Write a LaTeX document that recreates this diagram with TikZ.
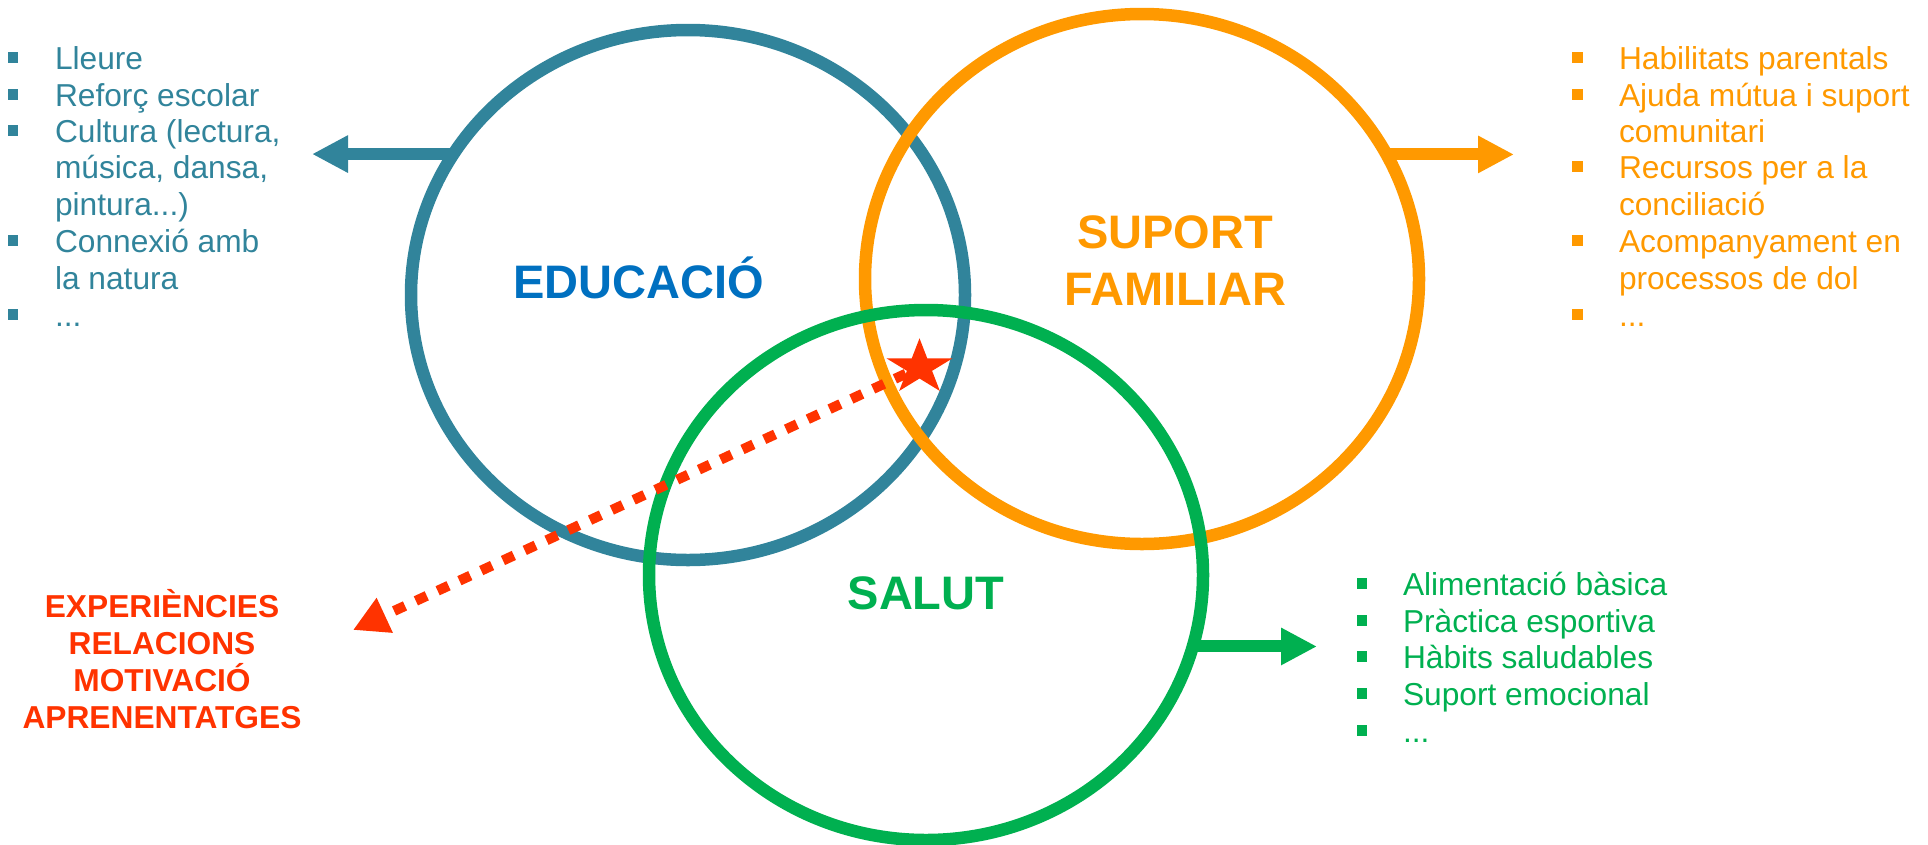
\documentclass[tikz,border=0pt]{standalone}
\usepackage{fontspec}
\setmainfont{Liberation Sans}
\usetikzlibrary{shapes.geometric,arrows.meta}
\definecolor{cteal}{RGB}{49,132,155}
\definecolor{cblue}{RGB}{0,112,192}
\definecolor{corange}{RGB}{255,153,0}
\definecolor{cgreen}{RGB}{0,176,80}
\definecolor{cred}{RGB}{255,51,0}
\begin{document}
\begin{tikzpicture}[x=1pt,y=-1pt,
  ring/.style={ellipse, draw, line width=12.5pt, minimum width=554pt, minimum height=530pt, inner sep=0pt, outer sep=0pt},
  thickarrow/.style={line width=12pt, -{Triangle[length=36pt,width=35pt]}},
  item/.style={anchor=base west, inner sep=0pt, outer sep=0pt, font=\fontsize{31.7}{36.7}\selectfont},
  bsq/.style={rectangle, minimum size=10.5pt, inner sep=0pt, outer sep=0pt},
  title/.style={anchor=base, inner sep=0pt, font=\fontsize{47}{56.6}\selectfont\bfseries},
  outcome/.style={anchor=base, inner sep=0pt, text=cred, font=\fontsize{31.7}{37}\selectfont\bfseries}]

\useasboundingbox (0,0) rectangle (1928,844);

% circles
\node[ring, draw=cteal] (edu) at (688,295) {};
\node[ring, draw=corange] (fam) at (1142,279) {};
\node[ring, draw=cgreen] (sal) at (926,575) {};

% arrows out of circles
\coordinate (tE) at (312,154);
\coordinate (tF) at (1514,154);
\coordinate (tS) at (1317,646);
\draw[thickarrow, cteal] (edu.149) -- (edu.149 -| tE);
\draw[thickarrow, corange] (fam.27) -- (fam.27 -| tF);
\draw[thickarrow, cgreen] (sal.-15) -- (sal.-15 -| tS);

% star and dashed arrow
\begin{scope}[shift={(919.5,367.4)}, xscale=1.19]
  \node[star, star points=5, star point ratio=2.618, minimum size=58.2pt, inner sep=0pt, outer sep=0pt, fill=cred, transform shape] (star) at (0,0) {};
\end{scope}
\coordinate (tR) at (353,630);
\draw[cred, line width=10pt, dash pattern=on 12pt off 12pt, -{Triangle[length=35pt,width=36pt]}] (star) -- (tR);

% circle labels
\node[title, text=cblue] (lEdu) at (638.5,298.7) {EDUCACIÓ};
\node[title, text=corange] (lFam1) at (1175,248.6) {SUPORT};
\node[title, text=corange] (lFam2) at (1175,305) {FAMILIAR};
\node[title, text=cgreen] (lSal) at (926,609) {SALUT};

% outcomes
\node[outcome] (o1) at (162,617) {EXPERIÈNCIES};
\node[outcome] (o2) at (162,654) {RELACIONS};
\node[outcome] (o3) at (162,691) {MOTIVACIÓ};
\node[outcome] (o4) at (162,728) {APRENENTATGES};

% education list
\foreach \yy [count=\i] in {57.5,94.5,130.5,240.5,314.5}
  \node[bsq, fill=cteal] (eb\i) at (13,\yy) {};
\node[item, text=cteal] (e1) at (55,69) {Lleure};
\node[item, text=cteal] (e2) at (55,106) {Reforç escolar};
\node[item, text=cteal] (e3) at (55,142) {Cultura (lectura,};
\node[item, text=cteal] (e4) at (55,178) {música, dansa,};
\node[item, text=cteal] (e5) at (55,215) {pintura...)};
\node[item, text=cteal] (e6) at (55,252) {Connexió amb};
\node[item, text=cteal] (e7) at (55,289) {la natura};
\node[item, text=cteal] (e8) at (55,326) {...};

% family list
\foreach \yy [count=\i] in {57.5,94.5,166.5,240.5,314.5}
  \node[bsq, fill=corange] (fb\i) at (1577.5,\yy) {};
\node[item, text=corange] (f1) at (1619,69) {Habilitats parentals};
\node[item, text=corange] (f2) at (1619,106) {Ajuda mútua i suport};
\node[item, text=corange] (f3) at (1619,142) {comunitari};
\node[item, text=corange] (f4) at (1619,178) {Recursos per a la};
\node[item, text=corange] (f5) at (1619,215) {conciliació};
\node[item, text=corange] (f6) at (1619,252) {Acompanyament en};
\node[item, text=corange] (f7) at (1619,289) {processos de dol};
\node[item, text=corange] (f8) at (1619,326) {...};

% health list
\foreach \yy [count=\i] in {583.5,620.5,656.5,693.5,730.5}
  \node[bsq, fill=cgreen] (sb\i) at (1362,\yy) {};
\node[item, text=cgreen] (s1) at (1403,595) {Alimentació bàsica};
\node[item, text=cgreen] (s2) at (1403,632) {Pràctica esportiva};
\node[item, text=cgreen] (s3) at (1403,668) {Hàbits saludables};
\node[item, text=cgreen] (s4) at (1403,705) {Suport emocional};
\node[item, text=cgreen] (s5) at (1403,742) {...};
\end{tikzpicture}
\end{document}
